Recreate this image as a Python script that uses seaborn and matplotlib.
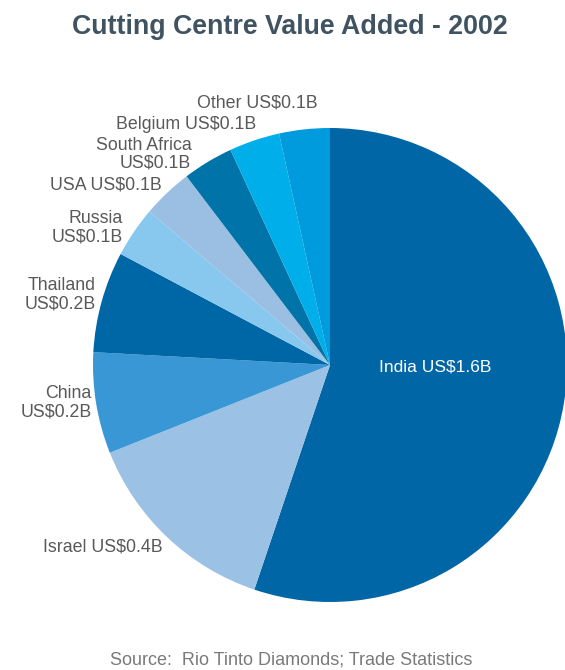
import numpy as np
import matplotlib
matplotlib.use("Agg")
import matplotlib.pyplot as plt
import seaborn as sns

# Value added by cutting centre, 2002 (US$ billions)
countries = ["India", "Israel", "China", "Thailand", "Russia", "USA",
             "South Africa", "Belgium", "Other"]
values = [1.6, 0.4, 0.2, 0.2, 0.1, 0.1, 0.1, 0.1, 0.1]
labels = ["India US$1.6B", "Israel US$0.4B", "China\nUS$0.2B",
          "Thailand\nUS$0.2B", "Russia\nUS$0.1B", "USA US$0.1B",
          "South Africa\nUS$0.1B", "Belgium US$0.1B", "Other US$0.1B"]
colors = ["#0066A6", "#9BC1E5", "#3897D4", "#0067A6", "#88C8EE",
          "#9BBFE3", "#0073A8", "#00AEEA", "#009BDC"]

sns.set_theme(style="white")
plt.rcParams["font.family"] = ["Liberation Sans", "DejaVu Sans"]

fig = plt.figure(figsize=(5.65, 6.7), dpi=100)
W, H = 565, 670
cx, cy, r = 330, 365, 237
ax = fig.add_axes([(cx - r) / W, (H - cy - r) / H, 2 * r / W, 2 * r / H])

wedges, _ = ax.pie(values, colors=colors, startangle=90, counterclock=False,
                   radius=1.0, wedgeprops=dict(linewidth=0))
ax.set_xlim(-1, 1)
ax.set_ylim(-1, 1)
ax.set_aspect("equal")
ax.axis("off")

# label anchor: radial distance (x radius) and angular nudge (degrees)
dist = [0.443, 1.042, 1.018, 1.033, 1.049, 1.039, 1.065, 1.061, 1.107]
nudge = [8.2, 0.9, -0.3, -1.2, 0.6, -0.4, 2.3, -1.65, -3.4]
for i, (w, lab, d, dn) in enumerate(zip(wedges, labels, dist, nudge)):
    ang = np.deg2rad((w.theta1 + w.theta2) / 2 + dn)
    x, y = d * np.cos(ang), d * np.sin(ang)
    if i == 0:
        ax.text(x, y, lab, ha="center", va="center", color="white",
                fontsize=12.5)
    else:
        ax.text(x, y, lab, ha="right", va="center", color="#595959",
                fontsize=12.8, linespacing=1.08, multialignment="right")

fig.text(290 / W, 1 - 27 / H, "Cutting Centre Value Added - 2002",
         ha="center", va="center", fontsize=19.3, fontweight="bold",
         color="#3F5361")
fig.text(291 / W, 1 - 660 / H, "Source:  Rio Tinto Diamonds; Trade Statistics",
         ha="center", va="center", fontsize=13, color="#7A7A7A")

fig.savefig("out.png", dpi=100, facecolor="white")
